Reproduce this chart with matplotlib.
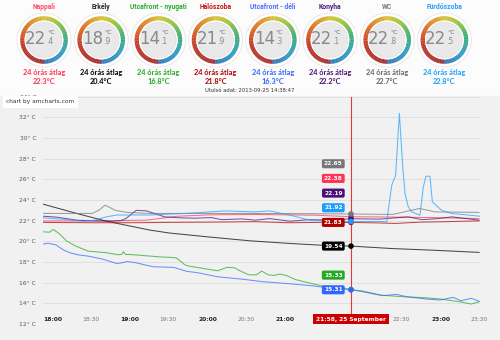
import matplotlib
matplotlib.use("Agg")
import matplotlib.pyplot as plt
from matplotlib.patches import Wedge, Circle, Rectangle
from matplotlib.colors import LinearSegmentedColormap
import numpy as np

# rooms shown on the gauges (and in the chart)
rooms = ['Nappali', 'Erkély', 'Utcafront - nyugati', 'Hálószoba',
         'Utcafront - déli', 'Konyha', 'WC', 'Fürdőszoba']
current_temp = [22.4, 18.9, 14.1, 21.9, 14.3, 22.1, 22.8, 22.5]
avg_24h = [22.3, 20.4, 16.8, 21.8, 16.3, 22.2, 22.7, 22.8]
room_colors = ['#ff3355', '#000000', '#22aa22', '#b00000',
               '#3366ff', '#4b0f7a', '#777777', '#1a9fff']
title_colors = ['#ff4d6a', '#222222', '#2eaa2e', '#cc1111',
                '#4d6dff', '#4b1a80', '#777777', '#2a9dff']
last_data = 'Utolsó adat: 2013-09-25 14:38:47'

# chart series: minutes after 18:00 -> temperature
t_nappali = [0, 40, 80, 104, 130, 164, 211, 238, 270, 300, 337]
v_nappali = [21.98, 21.98, 22.05, 22.43, 22.57, 22.6, 22.53, 22.38, 22.35, 22.3, 22.2]

t_erkely = [0, 26, 49, 83, 98, 130, 160, 190, 216, 238, 270, 300, 337]
v_erkely = [23.6, 22.7, 21.95, 21.08, 20.8, 20.4, 20.05, 19.8, 19.62, 19.54, 19.3, 19.15, 18.93]

t_nyugati = [0, 5, 8, 13, 18, 25, 35, 49, 58, 61, 62, 64, 67, 80, 90, 99, 103, 107, 110,
             113, 125, 135, 142, 148, 153, 159, 165, 169, 174, 178, 183, 188, 195, 202,
             215, 226, 238, 247, 260, 278, 294, 307, 322, 331, 337]
v_nyugati = [20.92, 20.88, 21.15, 20.7, 20.05, 19.55, 19.05, 18.9, 18.7, 18.75, 19.0, 18.72,
             18.73, 18.6, 18.5, 18.44, 18.4, 18.0, 17.7, 17.6, 17.35, 17.15, 17.48, 17.44,
             17.1, 16.76, 16.76, 17.12, 16.76, 16.7, 16.83, 16.7, 16.3, 16.09, 15.7, 15.6,
             15.33, 15.12, 14.8, 14.64, 14.55, 14.42, 14.15, 13.93, 14.15]

t_haloszoba = [0, 40, 70, 94, 130, 164, 190, 211, 238, 260, 272, 290, 310, 337]
v_haloszoba = [21.83, 21.8, 21.8, 21.83, 21.86, 21.9, 21.8, 21.83, 21.83, 21.78, 21.73,
               21.85, 21.9, 21.98]

t_deli = [0, 4, 10, 16, 21, 28, 35, 47, 57, 62, 65, 72, 85, 101, 111, 120, 135, 156, 170,
          187, 208, 217, 238, 247, 263, 273, 281, 296, 307, 317, 323, 331, 337]
v_deli = [19.73, 19.82, 19.65, 19.15, 18.89, 18.67, 18.57, 18.25, 17.85, 17.95, 18.05, 17.92,
          17.54, 17.48, 17.1, 16.95, 16.57, 16.31, 16.09, 15.93, 15.7, 15.55, 15.31, 15.19,
          14.74, 14.87, 14.64, 14.42, 14.32, 14.58, 14.25, 14.48, 14.2]

t_konyha = [0, 10, 26, 40, 54, 60, 64, 68, 72, 80, 86, 94, 105, 117, 130, 138, 154, 164, 175,
            191, 206, 222, 238, 260, 282, 293, 305, 316, 337]
v_konyha = [22.43, 22.35, 22.05, 21.98, 21.95, 22.0, 22.2, 22.6, 23.0, 22.95, 22.7, 22.37,
            22.28, 22.24, 22.3, 22.1, 22.17, 22.05, 22.2, 21.95, 22.1, 22.05, 22.19, 22.15,
            22.37, 22.1, 22.2, 22.37, 22.05]

t_wc = [0, 38, 43, 48, 56, 65, 83, 120, 160, 200, 238, 270, 291, 303, 337]
v_wc = [22.7, 22.7, 23.0, 23.5, 23.0, 22.8, 22.7, 22.7, 22.7, 22.68, 22.65, 22.6, 23.18, 22.85, 22.8]

t_furdo = [0, 15, 31, 40, 49, 57, 83, 110, 125, 141, 156, 164, 175, 191, 206, 222, 238, 255,
           265.6, 269.5, 272.5, 275.4, 276.4, 278, 279.8, 282.3, 284.9, 291.3, 293.9, 296,
           299, 300.9, 308.1, 315.8, 337.7]
v_furdo = [22.27, 22.15, 21.95, 22.05, 22.37, 22.55, 22.55, 22.7, 22.82, 22.95, 22.88, 22.85,
           22.95, 22.53, 22.05, 21.98, 21.92, 21.92, 21.9, 25.43, 26.4, 32.4, 30.4, 27.2,
           24.6, 23.33, 22.85, 22.53, 25.27, 26.3, 26.3, 23.82, 23.0, 22.7, 22.43]

series_t = [t_nappali, t_erkely, t_nyugati, t_haloszoba, t_deli, t_konyha, t_wc, t_furdo]
series_v = [v_nappali, v_erkely, v_nyugati, v_haloszoba, v_deli, v_konyha, v_wc, v_furdo]

# cursor
cursor_t = 238
cursor_label = '21:58, 25 September'
cursor_vals = [22.38, 19.54, 15.33, 21.83, 15.31, 22.19, 22.65, 21.92]

x_ticks = list(range(0, 331, 30))
x_labels = ['18:00', '18:30', '19:00', '19:30', '20:00', '20:30',
            '21:00', '21:30', '22:00', '22:30', '23:00', '23:30']
y_ticks = list(range(12, 35, 2))

head_font = ['Lato', 'DejaVu Sans']
title_font = ['Roboto', 'DejaVu Sans']

fig = plt.figure(figsize=(5, 3.4), dpi=100)
fig.patch.set_facecolor('#fcfcfc')

# background / header axes in pixel coordinates
bg = fig.add_axes([0, 0, 1, 1])
bg.set_xlim(0, 500)
bg.set_ylim(340, 0)
bg.axis('off')
bg.add_patch(Rectangle((0, 96), 500, 244, color='#f1f1f1', zorder=0))

ring_cmap = LinearSegmentedColormap.from_list('ring', [
    (0.0, '#a83232'), (0.2, '#c0392b'), (0.36, '#e07b24'), (0.5, '#d8c43a'),
    (0.6, '#9cc53f'), (0.72, '#3fae7a'), (0.85, '#2f9fc7'), (1.0, '#3a78b8')])

cy = 40
for i, name in enumerate(rooms):
    cx = 44 + i * 57.2
    bg.add_patch(Circle((cx, cy), 27, fc='#ffffff', ec='#e6e6e6', lw=0.6, zorder=1))
    n = 90
    for k in range(n):
        th1 = 90 + 360 * k / n
        bg.add_patch(Wedge((cx, cy), 23.8, th1, th1 + 360 / n + 0.6, width=4.4,
                           color=ring_cmap(k / n), lw=0, zorder=2))
    bg.add_patch(Circle((cx, cy), 19.4, fc='#ffffff', ec='none', zorder=3))
    bg.add_patch(Circle((cx, cy), 17.8, fc='#e9e9e9', ec='#dcdcdc', lw=0.4, zorder=4))
    whole, frac = f'{current_temp[i]:.1f}'.split('.')
    bg.text(cx + 2, cy - 1, whole, ha='right', va='center', fontsize=12,
            color='#8a8a8a', zorder=5)
    bg.text(cx + 3, cy - 7, '°C', ha='left', va='center', fontsize=4.5,
            color='#666666', zorder=5)
    bg.text(cx + 2, cy + 2, '.' + frac, ha='left', va='center', fontsize=5.5,
            color='#8a8a8a', zorder=5)
    bg.text(cx, 7, name, ha='center', va='center', fontsize=4.9, fontweight='bold',
            color=title_colors[i], family=title_font)
    bg.text(cx, 73, '24 órás átlag', ha='center', va='center', fontsize=5.3,
            fontweight='bold', color=room_colors[i] if i != 6 else '#666666',
            family=head_font)
    bg.text(cx, 81.5, f'{avg_24h[i]:.1f}°C', ha='center', va='center', fontsize=5.3,
            fontweight='bold', color=room_colors[i] if i != 6 else '#666666',
            family=head_font)

bg.text(250, 90, last_data, ha='center', va='center', fontsize=3.8, color='#333333')

# chart
ax = fig.add_axes([0.086, 0.0471, 0.874, 0.6685])
ax.set_facecolor('none')
ax.set_xlim(0, 337.7)
ax.set_ylim(12, 34)
for s in ax.spines.values():
    s.set_visible(False)
ax.set_yticks(y_ticks)
ax.set_yticklabels([f'{v}° C' for v in y_ticks])
ax.tick_params(axis='y', length=0, pad=5, labelsize=4.3, labelcolor='#555555')
ax.set_xticks([])
ax.grid(axis='y', color='#e0e0e0', lw=0.7)
ax.set_axisbelow(True)

for tt, vv, c in zip(series_t, series_v, room_colors):
    ax.plot(tt, vv, color=c, lw=0.75, alpha=0.7, zorder=2)

for xt, lab in zip(x_ticks, x_labels):
    bold = lab.endswith(':00')
    ax.text(xt, 12.48, lab, ha='left', va='center', fontsize=4.3,
            fontweight='bold' if bold else 'normal',
            color='#222222' if bold else '#777777', zorder=3)

ax.axvline(cursor_t, color='#e53935', lw=0.8, zorder=4)
ax.scatter([cursor_t] * len(cursor_vals), cursor_vals, c=room_colors, s=9, zorder=6)

# balloons stacked from the bottom up
order = np.argsort(cursor_vals)
pos = None
for idx in order:
    y = cursor_vals[idx] if pos is None else max(cursor_vals[idx], pos + 1.42)
    pos = y
    ax.annotate(f'{cursor_vals[idx]:.2f}', xy=(cursor_t, y), xytext=(-6, 0),
                textcoords='offset points', ha='right', va='center', fontsize=4.2,
                fontweight='bold', color='white', zorder=7, annotation_clip=False,
                bbox=dict(boxstyle='round,pad=0.35,rounding_size=0.3',
                          fc=room_colors[idx], ec='none'))

ax.text(cursor_t, 12.45, cursor_label, ha='center', va='center', fontsize=4.2,
        fontweight='bold', color='white', zorder=8,
        bbox=dict(boxstyle='square,pad=0.45', fc='#cc0000', ec='none'))

fig.text(6 / 500, 1 - 101.5 / 340, 'chart by amcharts.com', ha='left', va='center',
         fontsize=4.2, color='#333333', zorder=11,
         bbox=dict(boxstyle='square,pad=0.6', fc='white', ec='none'))

fig.savefig('out.png', dpi=100)
